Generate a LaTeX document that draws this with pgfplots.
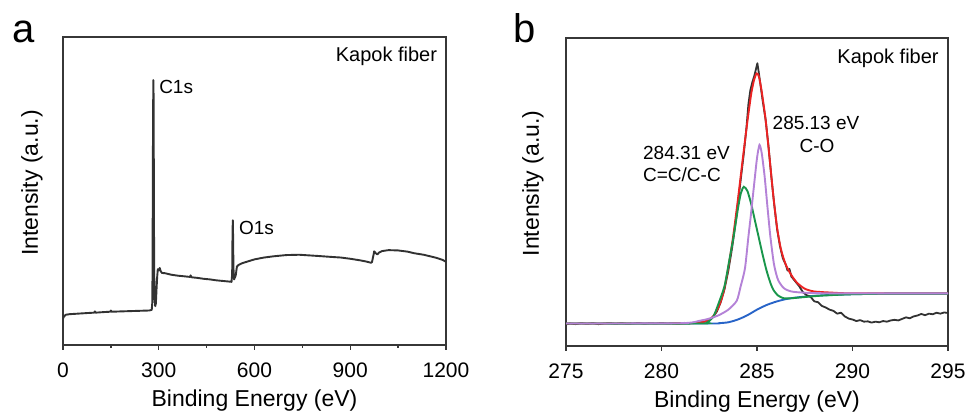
\documentclass[border=0pt]{standalone}
\usepackage{fontspec}
\setmainfont{Liberation Sans}
\usepackage{pgfplots}
\pgfplotsset{compat=1.18}
\definecolor{axisgray}{RGB}{55,55,55}
\definecolor{rawgray}{RGB}{50,50,50}
\definecolor{fitred}{RGB}{235,35,35}
\definecolor{fitgreen}{RGB}{25,150,75}
\definecolor{fitpurple}{RGB}{180,130,215}
\definecolor{fitblue}{RGB}{40,100,200}

\pgfplotsset{
  xpsaxis/.style={
    scale only axis,
    ymin=0, ymax=100,
    ytick=\empty,
    xtick pos=bottom,
    tick align=outside,
    major tick length=5pt,
    minor tick length=3pt,
    axis line style={draw=axisgray, line width=1.6pt},
    every tick/.style={draw=axisgray, line width=1.4pt},
    tick label style={font=\fontsize{21}{25}\selectfont},
    xticklabel style={yshift=-9pt},
    /pgf/number format/assume math mode=true,
    /pgf/number format/set thousands separator={},
    label style={font=\fontsize{23}{27}\selectfont},
    xlabel style={at={(axis description cs:0.5,-0.201)}, anchor=base},
  }
}

\begin{document}
\begin{tikzpicture}[x=1pt,y=1pt]
\useasboundingbox (0,0) rectangle (967,414);

% ---------------- panel a ----------------
\begin{axis}[xpsaxis,
  at={(63pt,69pt)}, anchor=south west,
  width=383pt, height=308pt,
  xmin=0, xmax=1200,
  xtick={0,300,600,900,1200},
  minor x tick num=1,
  xlabel={Binding Energy (eV)},
  ylabel={Intensity (a.u.)},
  ylabel style={at={(axis description cs:-0.081,0.526)}, anchor=center},
]
\addplot[rawgray, line width=1.9pt, line join=round] coordinates {
(0,8.6) (3,9.2) (8,9.8) (20,10.0) (50,10.2) (80,10.4) (98,10.5) (100,10.9) (102,10.5)
(130,10.7) (148,10.8) (150,11.2) (152,10.8) (180,10.9) (210,11.0) (240,11.1) (270,11.2)
(278,11.4) (280,14) (281,40) (282,70) (283,86.0) (284,80) (285,40) (286,22) (287,15)
(289,12.6) (291,13.5) (293,18) (295,22) (297,24.6) (300,24.3) (303,25.0) (306,24.0)
(310,23.4) (320,23.3) (340,22.8) (360,22.5) (380,22.3) (398,22.1) (400,22.6) (402,22.0)
(420,21.8) (440,21.5) (460,21.3) (480,21.0) (500,20.8) (520,20.6) (528,20.5) (530,23)
(531,35) (532,40.5) (533,35) (534,25) (536,21.3) (538,21.8) (541,22.5) (545,25.5)
(550,26.0) (560,26.5) (575,27.0) (600,27.8) (630,28.4) (660,28.8) (700,29.2) (740,29.3)
(770,29.1) (800,28.9) (840,28.6) (870,28.4) (900,28.0) (930,27.5) (950,27.1) (965,26.7)
(968,26.9) (972,28.8) (975,30.4) (980,29.8) (985,29.4) (990,30.0) (1000,30.5) (1020,30.8)
(1050,30.7) (1080,30.3) (1100,29.8) (1130,29.3) (1150,28.8) (1170,28.3) (1190,27.6) (1200,27.0)
};
\node[anchor=east, inner sep=0pt, font=\fontsize{20}{24}\selectfont] at (rel axis cs:0.977,0.938) {Kapok fiber};
\node[anchor=west, inner sep=0pt, font=\fontsize{19}{23}\selectfont] at (axis cs:301,83.8) {C1s};
\node[anchor=west, inner sep=0pt, font=\fontsize{19}{23}\selectfont] at (axis cs:551,38.0) {O1s};
\end{axis}

% ---------------- panel b ----------------
\begin{axis}[xpsaxis,
  at={(566pt,68pt)}, anchor=south west,
  width=382pt, height=308pt,
  xmin=275, xmax=295,
  xtick={275,280,285,290,295},
  xlabel={Binding Energy (eV)},
  ylabel={Intensity (a.u.)},
  ylabel style={at={(axis description cs:-0.0864,0.528)}, anchor=center},
]
% background (blue)
\addplot[fitblue, line width=1.9pt, smooth, tension=0.4] coordinates {
(275,7.3) (282.5,7.3) (283,7.4) (283.5,7.7) (284,8.6) (284.5,10.0) (285,11.8) (285.5,13.3)
(286,14.4) (286.5,15.2) (287,15.7) (288,16.3) (289,16.6) (290,16.8) (292,17.0) (295,17.0)
};
% raw data (black)
\addplot[rawgray, line width=1.8pt, line join=round] coordinates {
(275.0,7.0) (275.2,7.3) (275.5,7.1) (275.8,7.4) (276.1,7.2) (276.4,7.4) (276.7,7.1) (277.0,7.3)
(277.3,7.4) (277.6,7.2) (277.9,7.4) (278.2,7.2) (278.5,7.3) (278.8,7.5) (279.1,7.2) (279.4,7.4)
(279.7,7.3) (280.0,7.5) (280.3,7.3) (280.6,7.4) (280.9,7.3) (281.2,7.5) (281.5,7.4) (281.8,7.6)
(282.1,7.7) (282.4,8.2) (282.7,9.4) (282.9,11.2) (283.1,14.2) (283.3,18.5) (283.5,24.5) (283.7,32.0)
(283.9,41.0) (284.1,51.5) (284.3,62.0) (284.45,71.0) (284.55,78.5) (284.65,83.0) (284.75,85.5)
(284.85,87.5) (284.95,90.0) (285.02,91.8) (285.1,88.5) (285.2,84.0) (285.3,79.5) (285.45,73.5)
(285.6,65.0) (285.75,55.0) (285.9,46.0) (286.05,38.0) (286.2,32.5) (286.35,28.5) (286.5,26.5)
(286.6,24.5) (286.7,25.0) (286.8,22.5) (286.9,21.8) (287.0,21.0) (287.2,19.5) (287.4,17.5)
(287.6,16.5) (287.8,16.0) (288.0,14.5) (288.2,14.2) (288.4,13.0) (288.6,12.5) (288.8,11.8)
(289.0,11.4) (289.2,10.5) (289.4,10.8) (289.6,9.6) (289.8,8.9) (290.0,8.6) (290.2,8.1)
(290.4,8.4) (290.6,7.9) (290.8,8.0) (291.0,7.6) (291.2,7.9) (291.4,7.7) (291.6,8.1) (291.8,7.9)
(292.0,8.3) (292.2,8.5) (292.4,8.3) (292.6,8.8) (292.8,9.3) (293.0,9.0) (293.2,9.6) (293.4,9.9)
(293.6,10.4) (293.8,10.0) (294.0,10.5) (294.2,10.3) (294.4,10.8) (294.6,10.5) (294.8,10.9) (295.0,10.7)
};
% envelope (red)
\addplot[fitred, line width=1.9pt, smooth, tension=0.4] coordinates {
(275,7.3) (280,7.3) (281.5,7.4) (282,7.6) (282.4,8.2) (282.7,9.6) (283.0,12.8) (283.25,17.5)
(283.5,25.5) (283.75,35.5) (284.0,47.5) (284.25,60.5) (284.5,73.0) (284.7,82.0) (284.85,86.5)
(284.98,88.5) (285.1,87.5) (285.25,82.5) (285.45,73.5) (285.65,61.5) (285.85,49.0) (286.05,38.5)
(286.25,31.5) (286.5,26.5) (286.8,23.0) (287.1,20.5) (287.5,18.6) (288,17.7) (289,17.3) (290,17.1) (295,17.1)
};
% C=C/C-C component (green)
\addplot[fitgreen, line width=1.9pt, smooth, tension=0.4] coordinates {
(275,7.3) (282,7.3) (282.4,7.7) (282.71,9.5) (282.97,13.5) (283.3,19.5) (283.54,27.5) (283.76,35.0)
(284.0,44.5) (284.15,49.5) (284.31,51.7) (284.5,50.3) (284.7,46.0) (284.9,40.5) (285.1,35.0)
(285.3,29.5) (285.5,24.5) (285.7,20.5) (285.86,18.2) (286.1,16.4) (286.4,15.5) (286.8,15.5)
(287.5,15.9) (288.5,16.4) (290,16.8) (292,17.0) (295,17.0)
};
% C-O component (purple)
\addplot[fitpurple, line width=1.9pt, smooth, tension=0.4] coordinates {
(275,7.3) (281,7.4) (282.0,8.2) (282.5,8.9) (283.0,10.0) (283.5,11.8) (283.94,14.7) (284.15,19.5)
(284.37,25.2) (284.55,35.5) (284.67,42.0) (284.85,52.5) (285.0,61.0) (285.13,65.3) (285.25,62.5)
(285.4,55.0) (285.55,45.0) (285.7,35.5) (285.89,26.5) (286.1,21.5) (286.4,18.8) (286.8,17.7)
(287.5,17.3) (289,17.1) (295,17.1)
};
\node[anchor=east, inner sep=0pt, font=\fontsize{20}{24}\selectfont] at (rel axis cs:0.976,0.935) {Kapok fiber};
\node[anchor=west, inner sep=0pt, font=\fontsize{19}{23}\selectfont] at (axis cs:279.03,62.7) {284.31 eV};
\node[anchor=west, inner sep=0pt, font=\fontsize{19}{23}\selectfont] at (axis cs:279.03,55.5) {C=C/C-C};
\node[anchor=center, inner sep=0pt, font=\fontsize{19}{23}\selectfont] at (axis cs:288.09,72.4) {285.13 eV};
\node[anchor=center, inner sep=0pt, font=\fontsize{19}{23}\selectfont] at (axis cs:288.14,64.9) {C-O};
\end{axis}

% panel letters
\node[anchor=base west, inner sep=0pt, font=\fontsize{40}{44}\selectfont] at (12,371) {a};
\node[anchor=base west, inner sep=0pt, font=\fontsize{40}{44}\selectfont] at (513,371) {b};
\end{tikzpicture}
\end{document}
